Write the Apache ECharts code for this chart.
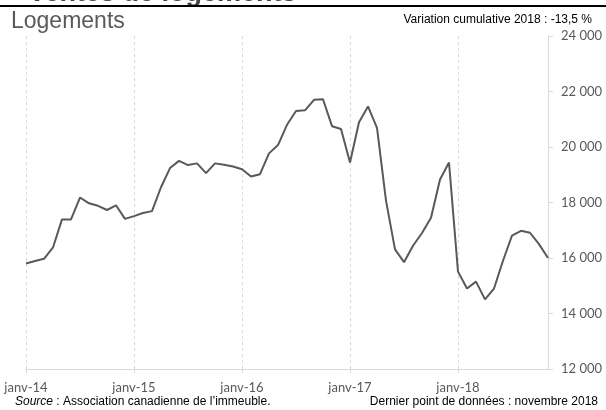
<!DOCTYPE html>
<html>
<head>
<meta charset="utf-8">
<script src="https://cdn.jsdelivr.net/npm/echarts@6/dist/echarts.min.js"></script>
<style>
html,body{margin:0;padding:0;background:#fff;}
#c{width:606px;height:410px;}
</style>
</head>
<body>
<div id="c"></div>
<script>
// Data
const monthNames = ['janv','févr','mars','avr','mai','juin','juil','août','sept','oct','nov','déc'];
const years = ['14','15','16','17','18'];
const logements = [
  15800, 15890, 15970, 16380, 17390, 17390, 18180, 17970, 17880, 17730, 17900, 17410,
  17510, 17620, 17690, 18550, 19240, 19500, 19350, 19410, 19060, 19410, 19360, 19300,
  19200, 18940, 19020, 19770, 20070, 20800, 21300, 21320, 21700, 21720, 20750, 20650,
  19440, 20890, 21460, 20690, 18070, 16310, 15850, 16440, 16900, 17450, 18830, 19440,
  15510, 14900, 15150, 14510, 14900, 15900, 16810, 16980, 16910, 16500, 16000
];
const yTicks = [12000, 14000, 16000, 18000, 20000, 22000, 24000];
const titleText = 'Logements';
const topText = 'Ventes de logements';
const variationText = 'Variation cumulative 2018 : -13,5 %';
const sourceItalic = 'Source';
const sourceRest = ' : Association canadienne de l\u2019immeuble.';
const lastPointText = 'Dernier point de données : novembre 2018';

const categories = [];
for (const y of years) for (const m of monthNames) categories.push(m + '-' + y);
categories.length = logements.length;

const fmt = v => String(v).replace(/\B(?=(\d{3})+(?!\d))/g, ' ');

const chart = echarts.init(document.getElementById('c'), null, {renderer: 'canvas'});
const isJan = (idx) => idx % 12 === 0;
const gridColor = '#d9d9d9';
const textColor = '#595959';

chart.setOption({
  animation: false,
  backgroundColor: '#fff',
  grid: {left: 26, right: 58, top: 36, bottom: 41, containLabel: false},
  xAxis: {
    type: 'category',
    data: categories,
    boundaryGap: false,
    axisLine: {show: true, lineStyle: {color: gridColor, width: 1}},
    axisTick: {show: true, interval: (i) => isJan(i), length: 4, lineStyle: {color: gridColor}},
    axisLabel: {interval: (i) => isJan(i), color: textColor, fontFamily: 'Lato', fontSize: 13, margin: 12},
    splitLine: {show: true, interval: (i) => isJan(i), lineStyle: {color: gridColor, type: [3, 3], width: 1}}
  },
  yAxis: {
    type: 'value',
    position: 'right',
    min: yTicks[0],
    max: yTicks[yTicks.length - 1],
    interval: 2000,
    axisLine: {show: true, lineStyle: {color: gridColor, width: 1}},
    axisTick: {show: true, length: 5, lineStyle: {color: gridColor}},
    axisLabel: {color: textColor, fontFamily: 'Lato', fontSize: 13, margin: 13, formatter: v => fmt(v)},
    splitLine: {show: false}
  },
  series: [{
    type: 'line',
    data: logements,
    symbol: 'none',
    lineStyle: {color: '#595959', width: 2},
    z: 5
  }],
  graphic: [
    {type: 'text', left: 28, top: -20, style: {text: topText, font: 'bold 27px "Liberation Sans", Arial', fill: '#404040'}},
    {type: 'rect', shape: {x: 0, y: 5, width: 606, height: 2}, style: {fill: '#000'}},
    {type: 'text', x: 11, y: 22, style: {text: titleText, font: '23px "Liberation Sans", Arial', fill: '#595959', textVerticalAlign: 'middle'}},
    {type: 'text', x: 592, y: 20, style: {text: variationText, font: '12px "Liberation Sans", Arial', fill: '#000', textAlign: 'right', textVerticalAlign: 'middle'}},
    {type: 'text', x: 15, y: 402, style: {
      text: '{i|' + sourceItalic + '}{n|' + sourceRest + '}',
      textVerticalAlign: 'middle',
      rich: {
        i: {font: 'italic 12px "Liberation Sans", Arial', fill: '#000'},
        n: {font: '12px "Liberation Sans", Arial', fill: '#000'}
      }
    }},
    {type: 'text', x: 598, y: 402, style: {text: lastPointText, font: '12px "Liberation Sans", Arial', fill: '#000', textAlign: 'right', textVerticalAlign: 'middle'}}
  ]
});
</script>
</body>
</html>
